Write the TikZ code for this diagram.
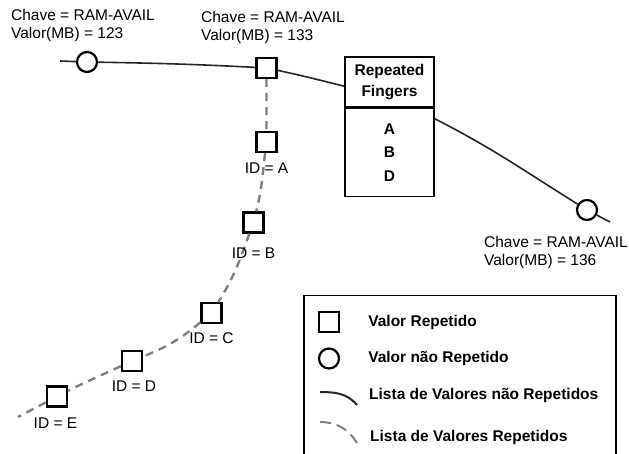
\documentclass[tikz,border=0pt]{standalone}
\usepackage{fontspec}
\setmainfont{Liberation Sans}
\usetikzlibrary{positioning,calc}
\tikzset{
  valrep/.style   ={rectangle, draw=black, line width=2.3pt, fill=white,
                    minimum size=20pt, inner sep=0pt},
  valnrep/.style  ={circle, draw=black, line width=2.2pt, fill=white,
                    minimum size=20pt, inner sep=0pt},
  listanrep/.style={line width=1.6pt, draw=black!85},
  listarep/.style ={line width=2.4pt, draw=black!50, dash pattern=on 8pt off 6pt},
  rotulo/.style   ={align=left, inner sep=0pt, font=\fontsize{15.5}{18}\selectfont},
  idrot/.style    ={inner sep=0pt, font=\fontsize{15.5}{18}\selectfont},
  fcaixa/.style   ={rectangle, draw=black, line width=1.5pt, fill=white,
                    minimum width=89pt, align=center, inner sep=0pt},
  legtxt/.style   ={anchor=west, inner sep=0pt, font=\bfseries\fontsize{15.5}{18}\selectfont},
}

\begin{document}
\begin{tikzpicture}[x=1pt, y=1pt]
\useasboundingbox (0,0) rectangle (629,-454);
\clip (0,0) rectangle (629,-454);

% lista de valores nao repetidos
\coordinate (ini) at (60,-61);
\node[valnrep] (c1) at (87,-62) {};
\node[valrep] (v0) at (266.5,-68) {};
\node[fcaixa, minimum height=50pt, font=\bfseries\fontsize{15.5}{21}\selectfont]
  (fhead) at (389.5,-82) {Repeated\\Fingers};
\node[fcaixa, minimum height=88pt, below=0pt of fhead,
      font=\bfseries\fontsize{15.5}{23.5}\selectfont] (fbody) {A\\B\\D};
\node[valnrep] (c2) at (587,-210) {};
\coordinate (fim) at (610,-222);
\coordinate (fin) at ($(fhead.north west)+(0,-30)$);
\coordinate (fout) at ($(fbody.north east)+(0,-11)$);

\draw[listanrep] (ini) -- (c1) to[out=-1,in=177] (v0);
\draw[listanrep] (v0) to[out=-12,in=166] (fin);
\draw[listanrep] (fout) to[out=-27,in=148] (c2) -- (fim);

\node[rotulo, above=8.5pt of c1, xshift=-4pt] (r1) {Chave = RAM-AVAIL\\Valor(MB) = 123};
\node[rotulo, above=12.5pt of v0, xshift=6.5pt] (r2) {Chave = RAM-AVAIL\\Valor(MB) = 133};
\node[rotulo, below=14.5pt of c2, xshift=-31pt] (r3) {Chave = RAM-AVAIL\\Valor(MB) = 136};

% lista de valores repetidos
\node[valrep] (vA) at (266.5,-142) {};
\node[valrep] (vB) at (253.5,-222.5) {};
\node[valrep] (vC) at (211.5,-313) {};
\node[valrep] (vD) at (132,-361) {};
\node[valrep] (vE) at (57,-396.5) {};
\coordinate (rfim) at (18,-417);

\draw[listarep] (v0) -- (vA) to[out=-97,in=76] (vB) to[out=-110,in=58] (vC)
  to[out=-140,in=22] (vD) to[out=-155,in=27] (vE) -- (rfim);

\node[idrot, below=9pt of vA] (idA) {ID = A};
\node[idrot, below=13.5pt of vB] (idB) {ID = B};
\node[idrot, below=8pt of vC] (idC) {ID = C};
\node[idrot, below=8.5pt of vD, xshift=2pt] (idD) {ID = D};
\node[idrot, below=9.5pt of vE, xshift=-1.5pt] (idE) {ID = E};

% legenda
\node[draw=black, line width=1.5pt, minimum width=312pt, minimum height=180pt,
      anchor=north west, inner sep=0pt] (legenda) at (303,-295) {};
\node[valrep] (lsq) at (329,-322) {};
\node[valnrep] (lci) at (329,-358.5) {};
\node[legtxt, right=28pt of lsq] (t1) {Valor Repetido};
\node[legtxt, right=28pt of lci] (t2) {Valor não Repetido};
\coordinate (ln1a) at (320,-392);
\coordinate (ln1b) at (357,-405);
\draw[listanrep, line width=2pt] (ln1a) to[out=0,in=130] (ln1b);
\node[legtxt] (t3) at (369,-395) {Lista de Valores não Repetidos};
\coordinate (ln2a) at (320,-422);
\coordinate (ln2b) at (357,-443);
\draw[listarep, line width=2pt, dash pattern=on 11pt off 6pt] (ln2a) to[out=0,in=122] (ln2b);
\node[legtxt] (t4) at (370,-437) {Lista de Valores Repetidos};
\end{tikzpicture}
\end{document}
